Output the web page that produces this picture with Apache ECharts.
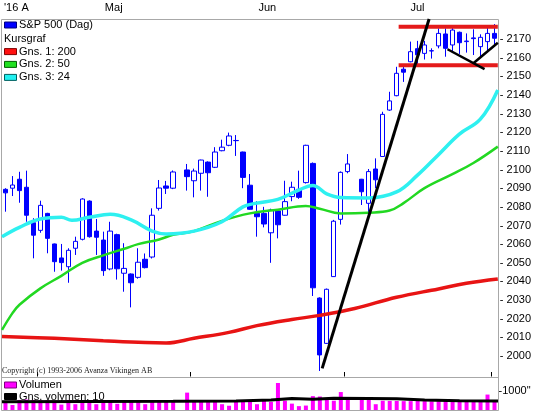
<!DOCTYPE html>
<html><head><meta charset="utf-8">
<script src="https://cdn.jsdelivr.net/npm/echarts@6/dist/echarts.min.js"></script>
<style>html,body{margin:0;padding:0;background:#fff}#c{width:534px;height:412px}</style>
</head><body><div id="c"></div>
<script>
// ---- data ----
const dates = ['2016-04-25','2016-04-26','2016-04-27','2016-04-28','2016-04-29',
'2016-05-02','2016-05-03','2016-05-04','2016-05-05','2016-05-06','2016-05-09','2016-05-10','2016-05-11','2016-05-12','2016-05-13',
'2016-05-16','2016-05-17','2016-05-18','2016-05-19','2016-05-20','2016-05-23','2016-05-24','2016-05-25','2016-05-26','2016-05-27','2016-05-30','2016-05-31',
'2016-06-01','2016-06-02','2016-06-03','2016-06-06','2016-06-07','2016-06-08','2016-06-09','2016-06-10','2016-06-13','2016-06-14','2016-06-15','2016-06-16','2016-06-17',
'2016-06-20','2016-06-21','2016-06-22','2016-06-23','2016-06-24','2016-06-27','2016-06-28','2016-06-29','2016-06-30',
'2016-07-01','2016-07-04','2016-07-05','2016-07-06','2016-07-07','2016-07-08','2016-07-11','2016-07-12','2016-07-13','2016-07-14','2016-07-15',
'2016-07-18','2016-07-19','2016-07-20','2016-07-21','2016-07-22','2016-07-25','2016-07-26','2016-07-27','2016-07-28','2016-07-29','2016-08-01'];

const opens  = [2089.4,2090,2094.8,2090.5,2071.5, 2067.4,2076.5,2060.1,2052.6,2047.9,2057.8,2062.6,2083.1,2067,2062.2,
 2046.7,2065.1,2044.4,2044,2042.2,2051.9,2053.1,2079.2,2091.2,2090,null,2099.8,
 2094,2098,2104,2101.2,2110.1,2113,2115.6,2109.4,2091.6,2076.5,2076.5,2066.1,2077.8,
 2075.5,2085.5,2089.4,2093,2103.3,2031.1,2006.8,2042.6,2073.3,
 2098.9,null,2094.8,2081.9,2100.3,2107,2131.9,2139.6,2153.8,2157.8,2164.8,
 2162.3,2163.7,2166.3,2172.7,2166.8,2173.6,2168.6,2170.6,2165.9,2168.6,2173];
const closes = [2087.5,2091.7,2088.7,2075.5,2064.8, 2080.8,2063.1,2050.6,2050.1,2056.7,2061.5,2084.2,2064,2063.7,2045.8,
 2067,2046.8,2047,2039.3,2050.3,2047.4,2075.5,2090.1,2090,2098.7,null,2096.2,
 2099.2,2105.1,2098.3,2109.4,2112,2118,2115.5,2095.8,2078.7,2074.7,2070.8,2078.3,2070.4,
 2082.8,2090.5,2085.1,2113,2036.6,2000.6,2035.8,2072.3,2098.5,
 2103,null,2088.1,2098.9,2094.5,2129.6,2136.8,2151.6,2152.2,2163.2,2161.5,
 2166.8,2163.6,2173,2165,2174.8,2168,2168.9,2170.2,2170.9,2173,2170.4];
const lows   = [2077.4,2085.8,2082.2,2072,2052.4, 2066.1,2055.1,2045.2,2045.8,2039.3,2054.2,2062,2063.5,2054.2,2043,
 2046,2041,2034.5,2026.1,2041.5,2047,2052.3,2078,2086.9,2089.5,null,2088.7,
 2085.1,2088.7,2085.4,2100.8,2109.8,2112.5,2107.3,2090,2078.4,2064,2069,2050,2063.1,
 2075.3,2083,2084.3,2092.5,2032.2,1992,2006.5,2042.4,2070.5,
 2098,null,2081,2075,2090,2107,2131.5,2139.3,2147,2157.5,2156,
 2159,2159.5,2165,2160.5,2163.5,2162,2162.7,2161.4,2160,2163.5,2166];
const highs  = [2090,2096.5,2098.8,2099.4,2073.9, 2083.3,2076.8,2060.3,2060.1,2057.8,2064,2084.6,2083.5,2073.5,2066.7,
 2072,2065.6,2060.5,2044.3,2057.8,2055,2079.2,2094.4,2093.9,2099.5,null,2103,
 2100.5,2105.3,2104.4,2112,2116,2119.8,2118.5,2109.6,2097.6,2083,2080,2079,2078,
 2094,2093.5,2099.4,2113.3,2103.8,2031.5,2036.2,2073,2099,
 2108.3,null,2095,2100.3,2106,2131,2141.7,2155.1,2155.5,2168.6,2169,
 2169,2165,2175.7,2175.7,2176,2174,2173,2175.2,2172.5,2176.6,2178];

const volumes = [430,260,520,540,520,500,510,470,280,520,
 300,480,500,300,480,470,320,470,480,470,
 300,480,470,480,460,null,900,480,470,470,
 460,300,220,420,480,460,300,480,420,1400,
 480,330,200,230,720,700,600,480,930,520,
 null,540,540,300,480,470,470,460,460,520,
 460,450,460,470,450,460,470,480,470,800,
 500];

// moving averages: [slot index, value]
const ma200 = [[-0.5,2010.5],[7,2009.5],[14,2008.2],[20,2007.2],[23,2007],[27,2009.5],[32,2012.7],[36,2016.3],[41,2019.6],[45,2021.8],[50,2025.5],[56,2031.5],[62,2036],[66,2039],[70.5,2041.3]];
const ma50  = [[-0.5,2014],[1,2023],[2,2027.5],[5,2036.3],[8,2043],[11,2050],[14,2054],[17,2057.5],[19,2060],[22,2062.5],[24,2065],[27,2067],[31,2072.5],[35,2076.5],[39,2078.5],[43,2080.5],[45,2079],[48,2076.5],[52,2076.9],[55,2078],[57,2082],[60,2090],[64,2097.5],[67,2103.5],[70.5,2112.3]];
const ma24  = [[-0.5,2064],[2,2069],[5,2073.5],[8,2074.4],[9.5,2072.8],[12,2074.4],[15,2076],[18,2073],[21,2067],[23,2065.5],[27,2067],[31,2072],[34,2080],[36,2082],[39,2084],[42,2089],[44,2091.5],[46,2087],[48,2085],[52,2084.8],[56,2088],[59,2097],[62,2108],[65,2119],[68,2127],[70.5,2142.7]];
const volAvg = [[-0.5,430],[12,440],[24,450],[33,470],[38,520],[41,590],[44,560],[47,610],[52,600],[56,580],[60,520],[65,480],[70.5,470]];

// drawn annotation lines
const trendUp    = [[45.35,1993.4],[60.66,2180.7]];
const resistance = [[56.3,2176.6],[70.5,2176.6]];
const support    = [[56.3,2155.9],[70.5,2155.9]];
const vLeft      = [[63.3,2164.5],[68.6,2153.9]];
const vRight     = [[67.0,2157],[70.5,2168]];

const priceTicks = [2000,2170]; // labelled range
const volTick = 1000;
const monthNames = ['Maj','Jun','Jul'];
const monthFirst = ['2016-05-02','2016-06-01','2016-07-01'];
const monthLast  = ['2016-05-31','2016-06-30','2016-07-29'];
const monthTicks = ['2016-05-02','2016-06-01','2016-07-01','2016-08-01'];

const candleData = dates.map((d,i)=> opens[i]==null ? '-' : [opens[i],closes[i],lows[i],highs[i]]);

const FONT = '"Liberation Sans", Arial, sans-serif';
const BLUE = '#0000ff', GRAY = '#a8a8a8';
const chart = echarts.init(document.getElementById('c'), null, {renderer:'canvas'});

const lineSeries = (name, data, color, width, extra) => Object.assign({
  name, type:'line', xAxisIndex:1, yAxisIndex:0, data, symbol:'none', silent:true,
  lineStyle:{color, width}, z:5
}, extra||{});

chart.setOption({
  animation:false,
  grid:[
    {left:2, right:36, top:1.7, bottom:18.65},
    {left:2, right:36, top:378, bottom:2},
    {left:2, right:36, top:19.5, height:357}
  ],
  xAxis:[
    {type:'category', gridIndex:0, data:dates, show:false, boundaryGap:true},
    {type:'value', gridIndex:0, min:-0.5, max:70.5, show:false},
    {type:'category', gridIndex:1, data:dates, show:false, boundaryGap:true},
    {type:'value', gridIndex:1, min:-0.5, max:70.5, show:false},
    {type:'category', gridIndex:2, data:dates, position:'top', boundaryGap:true,
     axisLine:{show:false}, axisLabel:{show:false}, splitLine:{show:false},
     axisTick:{show:true, inside:false, length:4.5, lineStyle:{color:'#000', width:1},
       interval:(idx, val)=> monthTicks.indexOf(val) >= 0}}
  ],
  yAxis:[
    {type:'value', gridIndex:0, position:'right', min:1980, max:2190, interval:10,
     axisLine:{show:false}, axisTick:{show:false}, splitLine:{show:false},
     axisLabel:{margin:2, color:'#000', fontSize:11, fontFamily:FONT,
       formatter:v=> (v>=priceTicks[0] && v<=priceTicks[1]) ? '- ' + v : ''}},
    {type:'value', gridIndex:1, position:'right', min:0, max:1658, interval:1000,
     axisLine:{show:false}, axisTick:{show:false}, splitLine:{show:false},
     axisLabel:{margin:0.5, color:'#000', fontSize:11, fontFamily:FONT,
       formatter:v=> v===volTick ? '-' + v + '"' : ''}},
    {type:'value', gridIndex:2, show:false}
  ],
  series:[
    {name:'S&P 500 (Dag)', type:'candlestick', xAxisIndex:0, yAxisIndex:0, data:candleData,
     barWidth:5, silent:true, z:3,
     itemStyle:{color:'#ffffff', color0:BLUE, borderColor:BLUE, borderColor0:BLUE, borderColorDoji:BLUE, borderWidth:1}},
    lineSeries('Gns. 1: 200', ma200, '#e81414', 3.5, {smooth:0.4}),
    lineSeries('Gns. 2: 50', ma50, '#22d822', 2.5, {smooth:0.4}),
    lineSeries('Gns. 3: 24', ma24, '#2ef0f0', 3.5, {smooth:0.4}),
    lineSeries('resistance', resistance, '#e41b1b', 4),
    lineSeries('support', support, '#e41b1b', 4),
    lineSeries('trend', trendUp, '#000', 3, {z:7}),
    lineSeries('vLeft', vLeft, '#000', 2.5, {z:7}),
    lineSeries('vRight', vRight, '#000', 2.5, {z:7}),
    {name:'Volumen', type:'bar', xAxisIndex:2, yAxisIndex:1, data:volumes, barWidth:4,
     itemStyle:{color:'#ff00ff'}, silent:true, z:3},
    {name:'Gns. volymen: 10', type:'line', xAxisIndex:3, yAxisIndex:1, data:volAvg, symbol:'none',
     lineStyle:{color:'#000', width:3}, silent:true, z:5}
  ]
});

// ---- graphic: frame, legends, month labels ----
const g = [];
const ln = (x1,y1,x2,y2,c)=>g.push({type:'line', silent:true, z:1, shape:{x1,y1,x2,y2}, style:{stroke:c||GRAY, lineWidth:1}});
ln(1.5,19.5,498.5,19.5); ln(1.5,19.5,1.5,410.5); ln(498.5,19.5,498.5,410.5);
ln(1.5,377.5,498.5,377.5); ln(1.5,410.5,498.5,410.5);

const txt = (text,x,y,opt)=>g.push(Object.assign({type:'text', silent:true, z:1, x, y,
  style:Object.assign({text, fill:'#000', font:'11px '+FONT, verticalAlign:'middle', align:'left'}, (opt||{}))}));
const sw = (y,fill,stroke)=>g.push({type:'rect', silent:true, z:1, shape:{x:4.5,y:y-3,width:12,height:6},
  style:{fill, stroke, lineWidth:1}});

txt("'16 A", 4, 7.5);
const leg = [['S&P 500 (Dag)',25,BLUE,'#000080'],['Kursgraf',38.8,null,null],['Gns. 1: 200',51.6,'#ff1010','#800000'],
             ['Gns. 2: 50',64.4,'#20e020','#006000'],['Gns. 3: 24',77.4,'#20f0f0','#006060']];
leg.forEach(([t,y,f,s])=>{ if(f){ sw(y,f,s); txt(t,19,y);} else txt(t,4,y); });
txt('Copyright (c) 1993-2006 Avanza Vikingen AB', 2, 371, {font:'8px "Liberation Serif", "Times New Roman", serif', fill:'#222'});
sw(385,'#ff00ff','#800080'); txt('Volumen',19,385);
sw(396.5,'#000','#000'); txt('Gns. volymen: 10',19,396.5);

monthNames.forEach((m,k)=>{
  const a = chart.convertToPixel({xAxisIndex:0}, monthFirst[k]);
  const b = chart.convertToPixel({xAxisIndex:0}, monthLast[k]);
  txt(m, (a+b)/2, 7.5, {align:'center'});
});
chart.setOption({graphic:{elements:g}});
</script></body></html>
